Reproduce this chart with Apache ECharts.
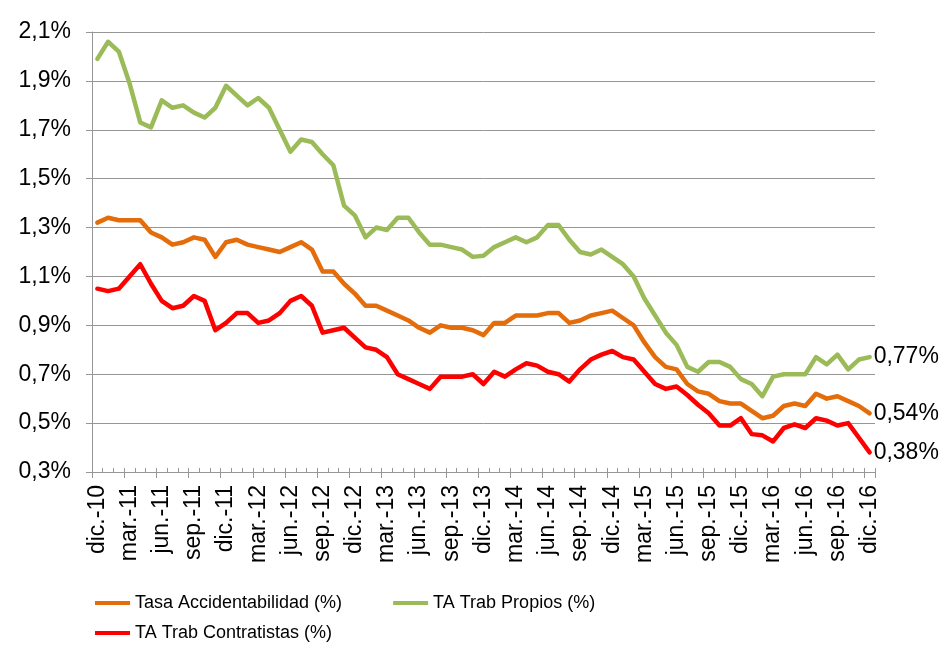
<!DOCTYPE html>
<html>
<head>
<meta charset="utf-8">
<script src="https://cdn.jsdelivr.net/npm/echarts@6/dist/echarts.min.js"></script>
<style>
  html, body { margin: 0; padding: 0; background: #fff; }
  #chart { width: 945px; height: 648px; }
</style>
</head>
<body>
<div id="chart"></div>
<script>
// meses dic-10 .. dic-16
const months = [
  'dic.-10', 'ene.-11', 'feb.-11', 'mar.-11', 'abr.-11', 'may.-11', 'jun.-11', 'jul.-11', 'ago.-11', 'sep.-11', 'oct.-11', 'nov.-11',
  'dic.-11', 'ene.-12', 'feb.-12', 'mar.-12', 'abr.-12', 'may.-12', 'jun.-12', 'jul.-12', 'ago.-12', 'sep.-12', 'oct.-12', 'nov.-12',
  'dic.-12', 'ene.-13', 'feb.-13', 'mar.-13', 'abr.-13', 'may.-13', 'jun.-13', 'jul.-13', 'ago.-13', 'sep.-13', 'oct.-13', 'nov.-13',
  'dic.-13', 'ene.-14', 'feb.-14', 'mar.-14', 'abr.-14', 'may.-14', 'jun.-14', 'jul.-14', 'ago.-14', 'sep.-14', 'oct.-14', 'nov.-14',
  'dic.-14', 'ene.-15', 'feb.-15', 'mar.-15', 'abr.-15', 'may.-15', 'jun.-15', 'jul.-15', 'ago.-15', 'sep.-15', 'oct.-15', 'nov.-15',
  'dic.-15', 'ene.-16', 'feb.-16', 'mar.-16', 'abr.-16', 'may.-16', 'jun.-16', 'jul.-16', 'ago.-16', 'sep.-16', 'oct.-16', 'nov.-16',
  'dic.-16'
];

const tasaAccidentabilidad = [
  1.32, 1.34, 1.33, 1.33, 1.33, 1.28, 1.26, 1.23, 1.24, 1.26, 1.25, 1.18,
  1.24, 1.25, 1.23, 1.22, 1.21, 1.20, 1.22, 1.24, 1.21, 1.12, 1.12, 1.07,
  1.03, 0.98, 0.98, 0.96, 0.94, 0.92, 0.89, 0.87, 0.90, 0.89, 0.89, 0.88,
  0.86, 0.91, 0.91, 0.94, 0.94, 0.94, 0.95, 0.95, 0.91, 0.92, 0.94, 0.95,
  0.96, 0.93, 0.90, 0.83, 0.77, 0.73, 0.72, 0.66, 0.63, 0.62, 0.59, 0.58,
  0.58, 0.55, 0.52, 0.53, 0.57, 0.58, 0.57, 0.62, 0.60, 0.61, 0.59, 0.57,
  0.54
];

const trabPropios = [
  1.99, 2.06, 2.02, 1.89, 1.73, 1.71, 1.82, 1.79, 1.80, 1.77, 1.75, 1.79,
  1.88, 1.84, 1.80, 1.83, 1.79, 1.70, 1.61, 1.66, 1.65, 1.60, 1.555, 1.39,
  1.35, 1.26, 1.30, 1.29, 1.34, 1.34, 1.28, 1.23, 1.23, 1.22, 1.21, 1.18,
  1.185, 1.22, 1.24, 1.26, 1.24, 1.26, 1.31, 1.31, 1.25, 1.20, 1.19, 1.21,
  1.18, 1.15, 1.10, 1.01, 0.94, 0.87, 0.82, 0.73, 0.71, 0.75, 0.75, 0.73,
  0.68, 0.66, 0.61, 0.69, 0.70, 0.70, 0.70, 0.77, 0.74, 0.78, 0.72, 0.76,
  0.77
];

const trabContratistas = [
  1.05, 1.04, 1.05, 1.10, 1.15, 1.07, 1.00, 0.97, 0.98, 1.02, 1.00, 0.88,
  0.91, 0.95, 0.95, 0.91, 0.92, 0.95, 1.00, 1.02, 0.98, 0.87, 0.88, 0.89,
  0.85, 0.81, 0.80, 0.77, 0.70, 0.68, 0.66, 0.64, 0.69, 0.69, 0.69, 0.70,
  0.66, 0.71, 0.69, 0.72, 0.745, 0.735, 0.71, 0.70, 0.67, 0.72, 0.76, 0.78,
  0.795, 0.77, 0.76, 0.71, 0.66, 0.64, 0.65, 0.615, 0.575, 0.54, 0.49, 0.49,
  0.52, 0.455, 0.45, 0.425, 0.48, 0.495, 0.48, 0.52, 0.51, 0.49, 0.50, 0.44,
  0.38
];

const yTicks = { min: 0.3, max: 2.1, step: 0.2 };

const FONT = '"Liberation Sans", Arial, sans-serif';
const GRID_COLOR = '#969696';

const pct = (v, d) => v.toFixed(d).replace('.', ',') + '%';

const chart = echarts.init(document.getElementById('chart'), null, { renderer: 'canvas' });

const lineSeries = (name, data, color) => ({
  name,
  type: 'line',
  data,
  symbol: 'none',
  smooth: false,
  lineStyle: { color, width: 4.5, cap: 'round', join: 'round' },
  itemStyle: { color },
  endLabel: {
    show: true,
    distance: 4,
    color: '#000',
    fontFamily: FONT,
    fontSize: 23,
    formatter: (p) => pct(p.value, 2),
  },
});

chart.setOption({
  animation: false,
  backgroundColor: '#fff',
  grid: { left: 92, right: 70, top: 32, bottom: 176, containLabel: false },
  legend: [
    {
      data: ['Tasa Accidentabilidad (%)', 'TA Trab Propios (%)'],
      left: 95, top: 594, padding: 0, itemGap: 51,
      icon: 'rect', itemWidth: 35, itemHeight: 4,
      textStyle: { fontFamily: FONT, fontSize: 18, color: '#000' },
    },
    {
      data: ['TA Trab Contratistas (%)'],
      left: 95, top: 624, padding: 0,
      icon: 'rect', itemWidth: 35, itemHeight: 4,
      textStyle: { fontFamily: FONT, fontSize: 18, color: '#000' },
    },
  ],
  xAxis: [
    {
      type: 'category',
      data: months,
      boundaryGap: true,
      axisLine: { lineStyle: { color: GRID_COLOR, width: 1 } },
      axisTick: { show: true, interval: 0, inside: true, length: 4, lineStyle: { color: GRID_COLOR } },
      axisLabel: {
        interval: 2,
        rotate: 90,
        margin: 13,
        color: '#000',
        fontFamily: FONT,
        fontSize: 23,
      },
      splitLine: { show: false },
    },
    {
      type: 'category',
      data: months,
      boundaryGap: true,
      position: 'bottom',
      offset: 0,
      axisLine: { show: false },
      axisTick: { show: true, interval: 2, inside: false, length: 6, lineStyle: { color: GRID_COLOR } },
      axisLabel: { show: false },
      splitLine: { show: false },
    },
  ],
  yAxis: {
    type: 'value',
    min: yTicks.min,
    max: yTicks.max,
    interval: yTicks.step,
    axisLine: { show: true, lineStyle: { color: GRID_COLOR, width: 1 } },
    axisTick: { show: true, inside: false, length: 6, lineStyle: { color: GRID_COLOR } },
    axisLabel: {
      margin: 21,
      color: '#000',
      fontFamily: FONT,
      fontSize: 23,
      formatter: (v) => pct(v, 1),
    },
    splitLine: { show: true, lineStyle: { color: GRID_COLOR, width: 1 } },
  },
  series: [
    lineSeries('Tasa Accidentabilidad (%)', tasaAccidentabilidad, '#E46C0A'),
    lineSeries('TA Trab Propios (%)', trabPropios, '#9BBB59'),
    lineSeries('TA Trab Contratistas (%)', trabContratistas, '#FF0000'),
  ],
});
</script>
</body>
</html>
